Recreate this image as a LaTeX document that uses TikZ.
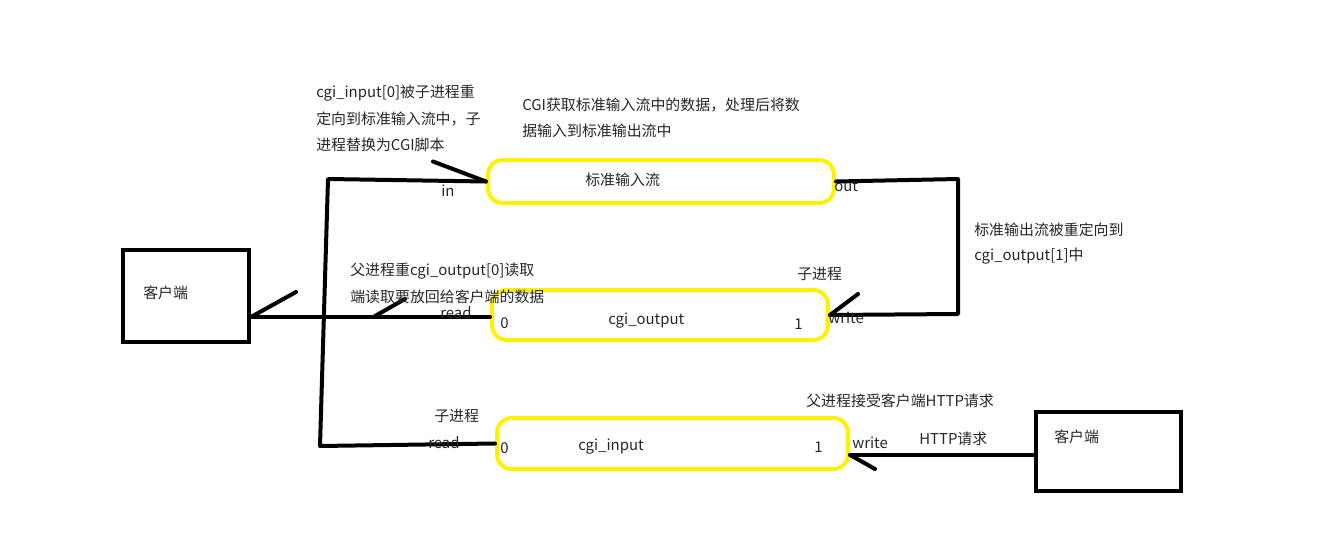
\documentclass[tikz,border=0pt]{standalone}
\usepackage{fontspec}
\setmainfont{Noto Sans CJK SC}
\begin{document}
\begin{tikzpicture}[x=0.75pt,y=-0.75pt,
  client/.style={draw, line width=3pt, inner sep=0pt},
  pipe/.style={draw=yellow, line width=3pt, rounded corners=11pt, inner sep=0pt},
  wire/.style={line width=3pt, line cap=round, line join=round},
  lbl/.style={font=\fontsize{11.2pt}{13pt}\selectfont, inner sep=0pt, anchor=west, text=black!85}]
\useasboundingbox (0,0) rectangle (1320,539);
% boxes
\node[client, minimum width=94.5pt, minimum height=69pt] (lc) at (186,296) {};
\node[client, minimum width=108.75pt, minimum height=59.25pt] (rc) at (1108.5,451.5) {};
\node[pipe, minimum width=259.5pt, minimum height=32.25pt] (stdin) at (661,181.5) {};
\node[pipe, minimum width=252pt, minimum height=37.5pt] (cgiout) at (660,315) {};
\node[pipe, minimum width=263.25pt, minimum height=38.25pt] (cgiin) at (672.5,443.5) {};
% connectors
\coordinate (bl) at (320,446);
\coordinate (tl) at (328,179);
\draw[wire] (cgiin.west) -- (bl) -- (tl) -- (stdin.west);
\draw[wire] (stdin.west) -- ++(-53,-20) coordinate (ah1);
\coordinate (mid) at (375,316);
\draw[wire] ([yshift=-1.5pt]cgiout.west) coordinate (cow) -- (lc.east |- cow) coordinate (lcin);
\draw[wire] (lcin) -- ++(45,-25) coordinate (ah2);
\draw[wire] (mid) -- ++(30,-17) coordinate (ah3);
\coordinate (tr) at (958,179);
\coordinate (br) at (958,314);
\draw[wire] (stdin.east) -- (tr) -- (br) -- (cgiout.east);
\draw[wire] (cgiout.east) -- ++(28,-21) coordinate (ah4);
\draw[wire] ([yshift=-2.6pt]rc.west) coordinate (hreq) -- (hreq -| cgiin.east) coordinate (hin);
\draw[wire] (hin) -- ++(25,14) coordinate (ah5);
% labels
\node[lbl] (t1) at (316,93) {cgi\_input[0]被子进程重};
\node[lbl] (t2) at (316,119) {定向到标准输入流中，子};
\node[lbl] (t3) at (316,145) {进程替换为CGI脚本};
\node[lbl] (t4) at (522,105) {CGI获取标准输入流中的数据，处理后将数};
\node[lbl] (t5) at (522,131) {据输入到标准输出流中};
\node[lbl] (t6) at (585,180) {标准输入流};
\node[lbl] (t7) at (441,191) {in};
\node[lbl] (t8) at (834,186) {out};
\node[lbl] (t9) at (974,230) {标准输出流被重定向到};
\node[lbl] (t10) at (974,256) {cgi\_output[1]中};
\node[lbl] (t11) at (797,274) {子进程};
\node[lbl] (t12) at (828,318) {write};
\node[lbl] (t13) at (794,324) {1};
\node[lbl] (t14) at (500,323) {0};
\node[lbl] (t15) at (608,321) {cgi\_output};
\node[lbl] (t16) at (350,271) {父进程重cgi\_output[0]读取};
\node[lbl] (t17) at (350,297) {端读取要放回给客户端的数据};
\node[lbl] (t18) at (440,313) {read};
\node[lbl] (t19) at (434,416) {子进程};
\node[lbl] (t20) at (428,443) {read};
\node[lbl] (t21) at (500,448) {0};
\node[lbl] (t22) at (578,447) {cgi\_input};
\node[lbl] (t23) at (814,447) {1};
\node[lbl] (t24) at (852,443) {write};
\node[lbl] (t25) at (919,439) {HTTP请求};
\node[lbl] (t26) at (806,401) {父进程接受客户端HTTP请求};
\node[lbl] (t27) at (143,293) {客户端};
\node[lbl] (t28) at (1054,437) {客户端};
\end{tikzpicture}
\end{document}
